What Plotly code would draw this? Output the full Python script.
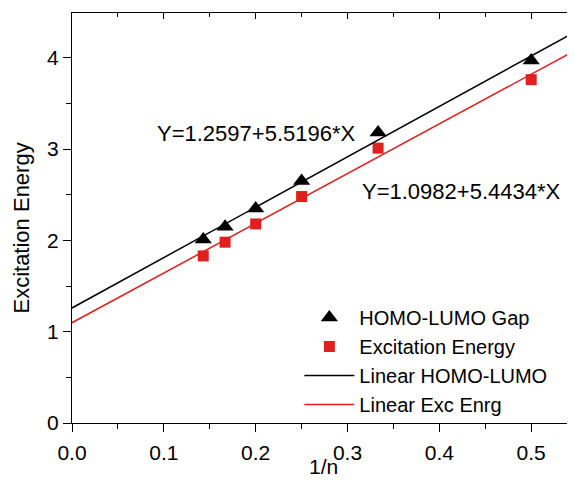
import plotly.graph_objects as go

inv_n = [0.1429, 0.1667, 0.2, 0.25, 0.3333, 0.5]
homo_lumo_gap = [2.01, 2.15, 2.35, 2.65, 3.18, 3.97]
excitation_energy = [1.83, 1.98, 2.18, 2.48, 3.01, 3.76]

fit_x = [0.0, 0.56]
homo_fit_y = [1.2597, 4.3507]   # Y=1.2597+5.5196*X
exc_fit_y = [1.0982, 4.1465]    # Y=1.0982+5.4434*X

eq_homo = "Y=1.2597+5.5196*X"
eq_exc = "Y=1.0982+5.4434*X"
x_title = "1/n"
y_title = "Excitation Energy"

RED = "#e0201e"
FONT = "Liberation Sans, Arial, sans-serif"
XR = [0, 0.5477]
YR = [0, 4.49]

fig = go.Figure()
fig.add_trace(go.Scatter(x=inv_n, y=homo_lumo_gap, mode="markers", name="HOMO-LUMO Gap",
                         marker=dict(symbol="triangle-up", size=15, color="black")))
fig.add_trace(go.Scatter(x=inv_n, y=excitation_energy, mode="markers", name="Excitation Energy",
                         marker=dict(symbol="square", size=11, color=RED)))
fig.add_trace(go.Scatter(x=fit_x, y=homo_fit_y, mode="lines", name="Linear HOMO-LUMO",
                         line=dict(color="black", width=1.5)))
fig.add_trace(go.Scatter(x=fit_x, y=exc_fit_y, mode="lines", name="Linear Exc Enrg",
                         line=dict(color=RED, width=1.5)))

axis_common = dict(showgrid=False, zeroline=False, showline=True, linecolor="black", linewidth=1.2,
                   tickcolor="black", automargin=False,
                   tickfont=dict(size=21, color="black", family=FONT))

# The page body has an 8px default margin, so the figure is sized to fit inside the window.
fig.update_layout(
    width=567, height=472,
    margin=dict(l=64, r=0, t=5, b=57, autoexpand=False),
    paper_bgcolor="white", plot_bgcolor="white",
    font=dict(family=FONT, size=21, color="black"),
    showlegend=True,
    legend=dict(x=0.452, y=0.305, xanchor="left", yanchor="top", bgcolor="rgba(0,0,0,0)",
                font=dict(size=20), itemwidth=50, tracegroupgap=0),
    xaxis=dict(range=XR, dtick=0.1, tickformat=".1f", ticks="outside", ticklen=8, tickwidth=1.2,
               ticklabelstandoff=3,
               minor=dict(dtick=0.05, ticks="outside", ticklen=5, tickcolor="black"),
               **axis_common),
    yaxis=dict(range=YR, dtick=1, ticks="outside", ticklen=8, tickwidth=1.2,
               minor=dict(dtick=0.5, ticks="outside", ticklen=5, tickcolor="black"),
               **axis_common),
    xaxis2=dict(range=XR, overlaying="x", side="top", dtick=0.1, ticks="inside", ticklen=6,
                showticklabels=False, showgrid=False, zeroline=False, showline=True,
                linecolor="black", linewidth=1.2, tickcolor="black", automargin=False,
                minor=dict(dtick=0.05, ticks="inside", ticklen=4, tickcolor="black")),
    yaxis2=dict(range=YR, overlaying="y", side="right", dtick=1, ticks="inside", ticklen=6,
                showticklabels=False, showgrid=False, zeroline=False, showline=True,
                linecolor="black", linewidth=1.2, tickcolor="black", automargin=False,
                minor=dict(dtick=0.5, ticks="inside", ticklen=4, tickcolor="black")),
)

fig.add_trace(go.Scatter(x=[None], y=[None], xaxis="x2", yaxis="y2", showlegend=False, hoverinfo="skip"))

fig.add_annotation(x=0.0904, y=3.165, xref="x", yref="y", text=eq_homo, showarrow=False,
                   xanchor="left", yanchor="middle", font=dict(size=22, color="black", family=FONT))
fig.add_annotation(x=0.3136, y=2.53, xref="x", yref="y", text=eq_exc, showarrow=False,
                   xanchor="left", yanchor="middle", font=dict(size=22, color="black", family=FONT))
fig.add_annotation(x=0.5, y=-0.105, xref="paper", yref="paper", text=x_title, showarrow=False,
                   xanchor="center", yanchor="middle", font=dict(size=21, color="black", family=FONT))
fig.add_annotation(x=-0.1, y=0.476, xref="paper", yref="paper", text=y_title, showarrow=False,
                   textangle=-90, xanchor="center", yanchor="middle",
                   font=dict(size=22, color="black", family=FONT))

fig.write_html("out.html")
